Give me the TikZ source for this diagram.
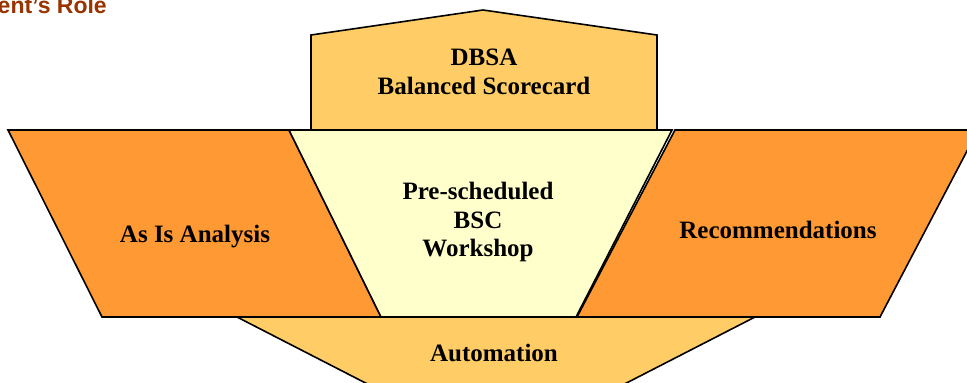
\documentclass[tikz,border=0pt]{standalone}
\usepackage{fontspec}
\setmainfont{Liberation Serif}
\setsansfont{Liberation Sans}
\definecolor{orangeA}{HTML}{FF9933}
\definecolor{goldA}{HTML}{FFCC66}
\definecolor{paleA}{HTML}{FFFFCC}
\definecolor{brownA}{HTML}{993300}
\tikzset{
  shapeline/.style={draw=black, line width=1.6pt, line join=miter},
  lbl/.style={font=\fontsize{25}{28.6}\selectfont\bfseries, align=center, anchor=base, inner sep=0pt},
}
\begin{document}
\begin{tikzpicture}[x=1pt,y=-1pt]
\useasboundingbox (0,0) rectangle (967,383);
\clip (0,0) rectangle (967,383);
% back shapes
\path[shapeline, fill=goldA] (311,130) -- (311,35) -- (483,10) -- (657,35) -- (657,130) -- cycle;
\path[shapeline, fill=goldA] (237,317) -- (755,317) -- (496,450) -- cycle;
% front shapes
\path[shapeline, fill=orangeA] (8,130) -- (289,130) -- (381,317) -- (102,317) -- cycle;
\path[shapeline, fill=paleA] (289,130) -- (672,130) -- (576,317) -- (381,317) -- cycle;
\path[shapeline, fill=orangeA] (675,130) -- (978,130) -- (880,317) -- (577,317) -- cycle;
% texts (anchor base = baseline of the last line)
\node[lbl] (dbsa) at (484,94.3) {DBSA\\Balanced Scorecard};
\node[lbl] (asis) at (195,242) {As Is Analysis};
\node[lbl] (bsc) at (478,256.7) {Pre-scheduled\\BSC\\Workshop};
\node[lbl] (rec) at (778,238) {Recommendations};
\node[lbl] (auto) at (494,361) {Automation};
\node[anchor=base east, inner sep=0pt, text=brownA, font=\sffamily\bfseries\fontsize{23}{26}\selectfont] (title) at (107,13) {ent's Role};
\end{tikzpicture}
\end{document}
